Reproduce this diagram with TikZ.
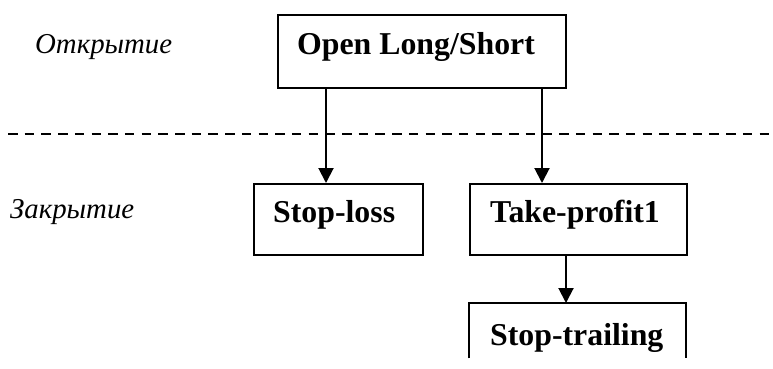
\documentclass[tikz,border=0pt]{standalone}
\usepackage{fontspec}
\setmainfont{Liberation Serif}
\usetikzlibrary{arrows.meta}
\begin{document}
\begin{tikzpicture}[x=1pt,y=-1pt,
 box/.style={draw, line width=2pt, rectangle, inner sep=0pt, anchor=north west},
 frame/.style={rectangle, inner sep=0pt, anchor=north west},
 lbl/.style={inner sep=0pt, anchor=base west, font=\fontsize{31.8}{38}\selectfont\bfseries},
 side/.style={inner sep=0pt, anchor=base west, font=\fontsize{28.8}{34}\selectfont\itshape},
 conn/.style={line width=2pt, -{Triangle[length=15pt,width=15pt]}},
 sep/.style={line width=2.2pt, dash pattern=on 9.5pt off 7.2pt}]
\useasboundingbox (0,0) rectangle (773,369);
\node[box, minimum width=288pt, minimum height=73pt] (open) at (277,14) {};
\node[box, minimum width=169pt, minimum height=71pt] (sl) at (253,183) {};
\node[box, minimum width=217pt, minimum height=71pt] (tp) at (469,183) {};
\node[frame, minimum width=217pt, minimum height=55pt] (st) at (469,303) {};
\draw[line width=2pt] (st.south west) -- (st.north west) -- (st.north east) -- (st.south east);
\coordinate (dl) at (8,134);
\coordinate (dr) at (773,134);
\draw[sep] (dl) -- (dr);
\draw[conn] ([xshift=49pt]open.south west) -- ([xshift=73pt]sl.north west);
\draw[conn] ([xshift=265pt]open.south west) -- ([xshift=73pt]tp.north west);
\draw[conn] ([xshift=97pt]tp.south west) -- ([xshift=97pt]st.north west);
\node[lbl] (t1) at (297,55) {Open Long/Short};
\node[lbl] (t2) at (273,222) {Stop-loss};
\node[lbl] (t3) at (490,222) {Take-profit1};
\node[lbl] (t4) at (490,345) {Stop-trailing};
\node[side] (s1) at (35,53) {Открытие};
\node[side] (s2) at (10,218) {Закрытие};
\end{tikzpicture}
\end{document}
